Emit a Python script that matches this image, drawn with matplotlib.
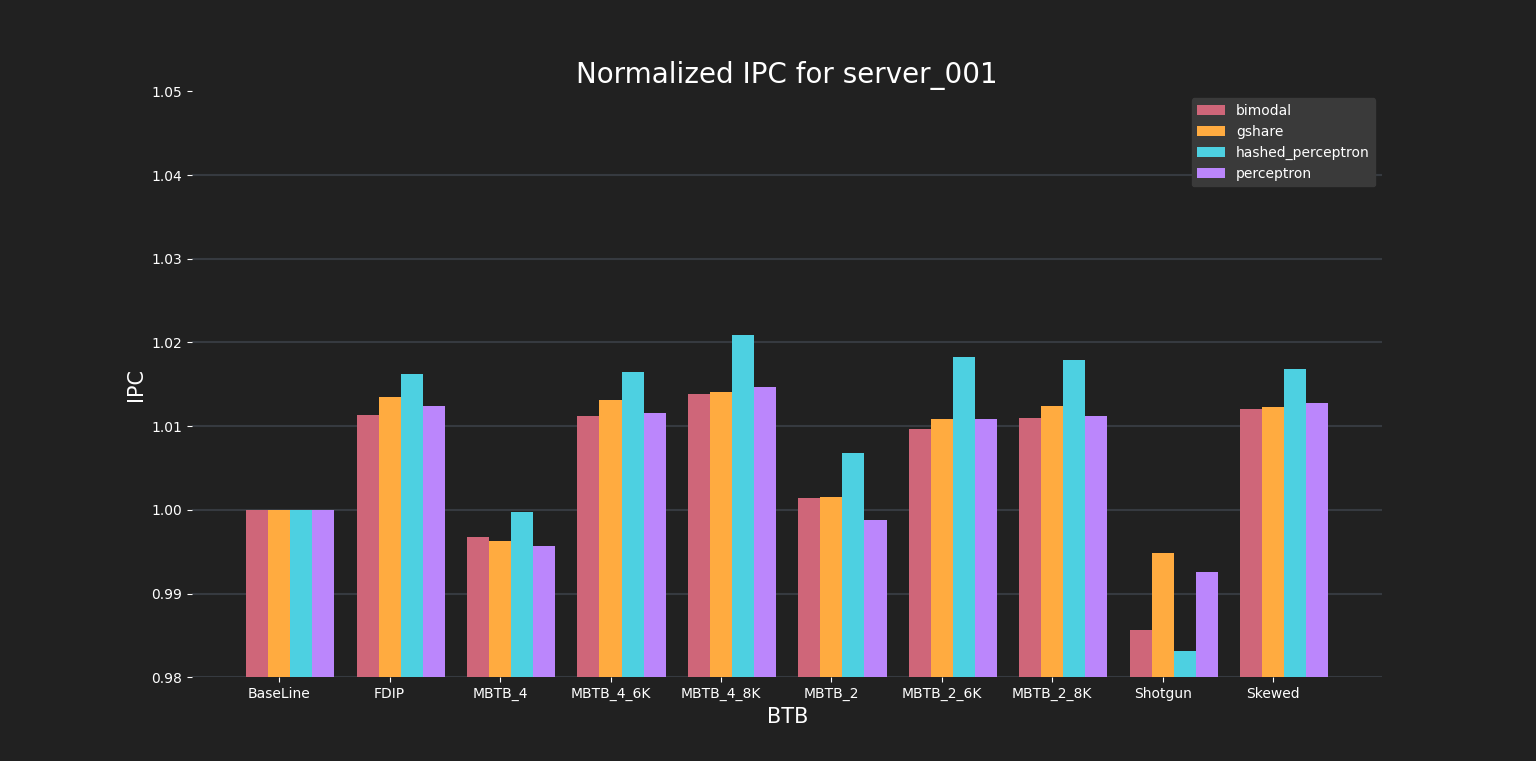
import matplotlib
matplotlib.use("Agg")
import matplotlib.pyplot as plt
import numpy as np

categories = ["BaseLine", "FDIP", "MBTB_4", "MBTB_4_6K", "MBTB_4_8K", "MBTB_2",
              "MBTB_2_6K", "MBTB_2_8K", "Shotgun", "Skewed"]
series_names = ["bimodal", "gshare", "hashed_perceptron", "perceptron"]
bimodal = [1.000, 1.0113, 0.9968, 1.0112, 1.0138, 1.0014, 1.0097, 1.0110, 0.9856, 1.0121]
gshare = [1.000, 1.0135, 0.9963, 1.0131, 1.0141, 1.0015, 1.0109, 1.0124, 0.9948, 1.0123]
hashed_perceptron = [1.000, 1.0162, 0.9998, 1.0165, 1.0209, 1.0068, 1.0183, 1.0179, 0.9831, 1.0168]
perceptron = [1.000, 1.0124, 0.9957, 1.0116, 1.0147, 0.9988, 1.0109, 1.0112, 0.9926, 1.0128]
series = [bimodal, gshare, hashed_perceptron, perceptron]
colors = ["#cf6679", "#ffab40", "#4dd0e1", "#bb86fc"]
yticks = [0.98, 0.99, 1.00, 1.01, 1.02, 1.03, 1.04, 1.05]

bg = "#212121"
fig, ax = plt.subplots(figsize=(15.36, 7.61), dpi=100)
fig.patch.set_facecolor(bg)
ax.set_facecolor(bg)

x = np.arange(len(categories))
w = 0.2
for i, (name, vals) in enumerate(zip(series_names, series)):
    ax.bar(x + (i - 1) * w, vals, w, label=name, color=colors[i], zorder=3)

ax.set_ylim(0.98, 1.05)
ax.set_yticks(yticks)
ax.set_yticklabels([f"{v:.2f}" for v in yticks])
ax.set_xticks(x)
ax.set_xticklabels(categories)
ax.grid(axis="y", color="#363a40", linewidth=1.5, zorder=0)
ax.set_axisbelow(True)
gl = ax.get_ygridlines()
gl[-1].set_visible(False)
for s in ax.spines.values():
    s.set_visible(False)
ax.tick_params(colors="white", labelsize=10)
ax.set_title("Normalized IPC for server_001", color="white", fontsize=20)
ax.set_xlabel("BTB", color="white", fontsize=15)
ax.set_ylabel("IPC", color="white", fontsize=15)
leg = ax.legend(loc="upper right", facecolor="#3a3a3a", edgecolor="#3a3a3a",
                labelcolor="white", fontsize=10, framealpha=1.0)

fig.savefig("out.png", dpi=100, facecolor=bg)
